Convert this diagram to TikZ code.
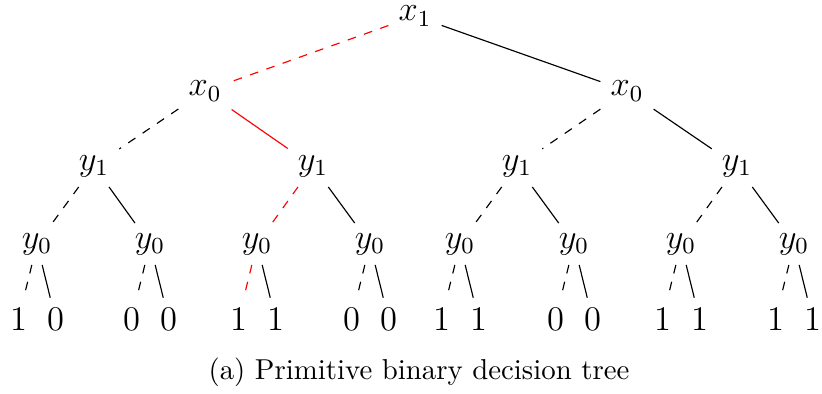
\documentclass[tikz,border=0pt]{standalone}
\begin{document}
\begin{tikzpicture}[x=0.34722pt,y=-0.34722pt,
  tn/.style={font=\large},
  lo/.style={draw,dashed},
  hi/.style={draw},
  hl/.style={red}]
\useasboundingbox (0,0) rectangle (822,393);
% level 0
\node[tn,inner ysep=1pt] (r) at (415,16) {$x_1$};
% level 1
\node[tn] (a) at (205,91) {$x_0$};
\node[tn] (b) at (627,91) {$x_0$};
% level 2
\node[tn] (aa) at (94,166) {$y_1$};
\node[tn] (ab) at (313,166) {$y_1$};
\node[tn] (ba) at (517,166) {$y_1$};
\node[tn] (bb) at (737,166) {$y_1$};
% level 3
\node[tn] (aaa) at (37,244) {$y_0$};
\node[tn] (aab) at (150,244) {$y_0$};
\node[tn] (aba) at (257,244) {$y_0$};
\node[tn] (abb) at (370,244) {$y_0$};
\node[tn] (baa) at (460,244) {$y_0$};
\node[tn] (bab) at (574,244) {$y_0$};
\node[tn] (bba) at (681,244) {$y_0$};
\node[tn] (bbb) at (794,244) {$y_0$};
% leaves
\node[tn] (l1) at (18.5,319) {$1$};
\node[tn] (l2) at (55.5,319) {$0$};
\node[tn] (l3) at (131.5,319) {$0$};
\node[tn] (l4) at (168.5,319) {$0$};
\node[tn] (l5) at (238.5,319) {$1$};
\node[tn] (l6) at (275.5,319) {$1$};
\node[tn] (l7) at (351.5,319) {$0$};
\node[tn] (l8) at (388.5,319) {$0$};
\node[tn] (l9) at (441.5,319) {$1$};
\node[tn] (l10) at (478.5,319) {$1$};
\node[tn] (l11) at (555.5,319) {$0$};
\node[tn] (l12) at (592.5,319) {$0$};
\node[tn] (l13) at (662.5,319) {$1$};
\node[tn] (l14) at (699.5,319) {$1$};
\node[tn] (l15) at (775.5,319) {$1$};
\node[tn] (l16) at (812.5,319) {$1$};
% edges
\draw[lo,hl] (r) -- (a);
\draw[hi] (r) -- (b);
\draw[lo] (a) -- (aa);
\draw[hi,hl] (a) -- (ab);
\draw[lo] (b) -- (ba);
\draw[hi] (b) -- (bb);
\draw[lo] (aa) -- (aaa);
\draw[hi] (aa) -- (aab);
\draw[lo,hl] (ab) -- (aba);
\draw[hi] (ab) -- (abb);
\draw[lo] (ba) -- (baa);
\draw[hi] (ba) -- (bab);
\draw[lo] (bb) -- (bba);
\draw[hi] (bb) -- (bbb);
\draw[lo] (aaa) -- (l1);
\draw[hi] (aaa) -- (l2);
\draw[lo] (aab) -- (l3);
\draw[hi] (aab) -- (l4);
\draw[lo,hl] (aba) -- (l5);
\draw[hi] (aba) -- (l6);
\draw[lo] (abb) -- (l7);
\draw[hi] (abb) -- (l8);
\draw[lo] (baa) -- (l9);
\draw[hi] (baa) -- (l10);
\draw[lo] (bab) -- (l11);
\draw[hi] (bab) -- (l12);
\draw[lo] (bba) -- (l13);
\draw[hi] (bba) -- (l14);
\draw[lo] (bbb) -- (l15);
\draw[hi] (bbb) -- (l16);
% caption
\node (cap) at (419,372) {(a) Primitive binary decision tree};
\end{tikzpicture}
\end{document}
